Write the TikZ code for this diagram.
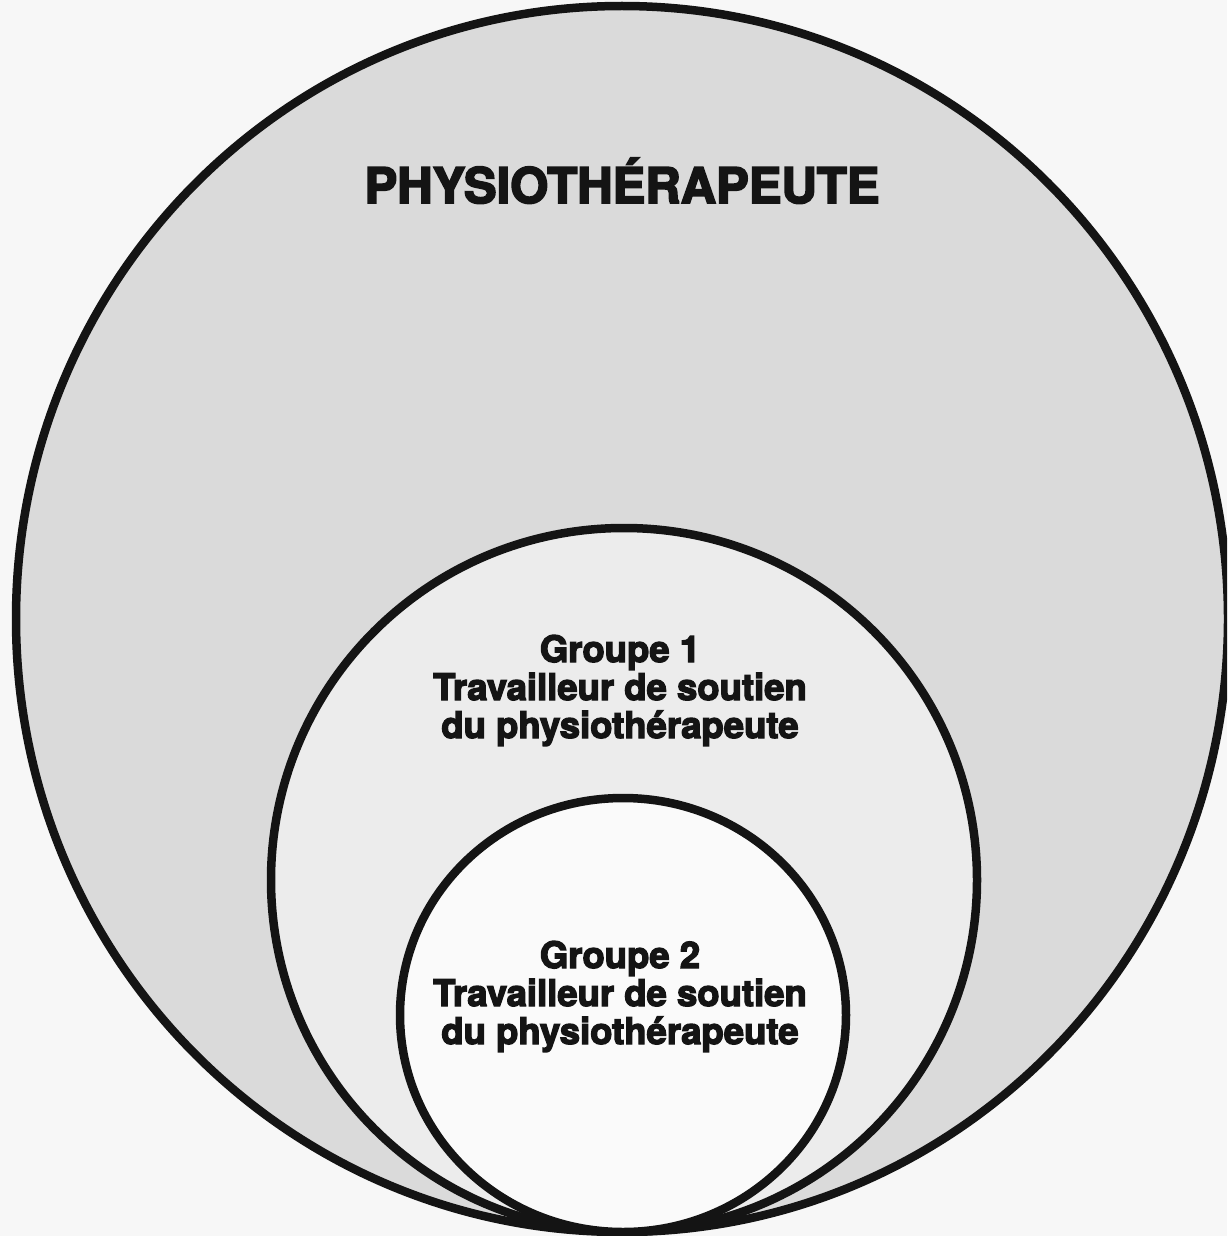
\documentclass[tikz,border=0pt]{standalone}
\usepackage{fontspec}
\newfontfamily\heavyfont[FakeBold=3.6]{TeX Gyre Heros Bold}
\definecolor{outerfill}{HTML}{DADADA}
\definecolor{midfill}{HTML}{ECECEC}
\definecolor{innerfill}{HTML}{FAFAFA}
\definecolor{pagebg}{HTML}{F7F7F7}
\begin{document}
\begin{tikzpicture}[x=1pt,y=-1pt,
  ring/.style={draw=black!92, line width=8.5pt},
  titletext/.style={anchor=base, inner sep=0pt, font=\heavyfont\fontsize{49}{49}\selectfont, text=black!92},
  grouptext/.style={anchor=base, inner sep=0pt, font=\heavyfont\fontsize{36.5}{36.5}\selectfont, text=black!92}]
\useasboundingbox (0,0) rectangle (1227,1236);
\clip (0,0) rectangle (1227,1236);
\fill[pagebg] (0,0) rectangle (1227,1236);
\path[ring, fill=outerfill] (622,619) ellipse [x radius=606, y radius=613];
\path[ring, fill=midfill] (624,880) ellipse [x radius=353, y radius=352];
\path[ring, fill=innerfill] (623,1015) ellipse [x radius=223, y radius=217];
\node[titletext] (title) at (622,203) {PHYSIOTHÉRAPEUTE};
\node[grouptext] (g1a) at (620,662) {Groupe 1};
\node[grouptext] (g1b) at (620,700) {Travailleur de soutien};
\node[grouptext] (g1c) at (620,738) {du physiothérapeute};
\node[grouptext] (g2a) at (620,968) {Groupe 2};
\node[grouptext] (g2b) at (620,1006) {Travailleur de soutien};
\node[grouptext] (g2c) at (620,1044) {du physiothérapeute};
\end{tikzpicture}
\end{document}
